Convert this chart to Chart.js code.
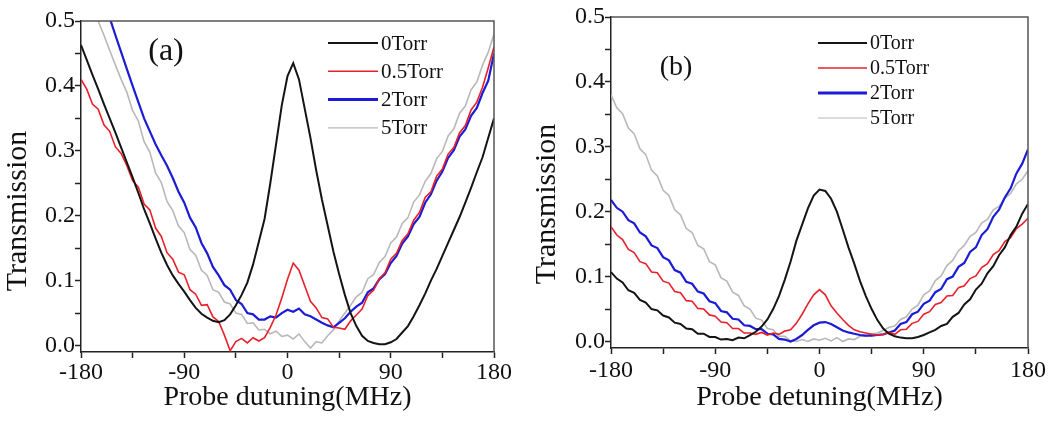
<!DOCTYPE html>
<html>
<head>
<meta charset="utf-8">
<script src="https://cdn.jsdelivr.net/npm/chart.js@4.4.1/dist/chart.umd.min.js"></script>
<style>
  html, body { margin: 0; padding: 0; background: #fff; }
  #wrap { position: relative; width: 1056px; height: 423px; }
  #chartA { position: absolute; left: 0; top: 0; }
  #chartB { position: absolute; left: 530px; top: 0; }
</style>
</head>
<body>
<div id="wrap">
  <canvas id="chartA" width="530" height="423"></canvas>
  <canvas id="chartB" width="526" height="423"></canvas>
</div>
<script>
// ── data (probe detuning in MHz, 5 MHz steps) ───────────────────────────
const detuning = [
    -180, -175, -170, -165, -160, -155, -150, -145,
    -140, -135, -130, -125, -120, -115, -110, -105,
    -100, -95, -90, -85, -80, -75, -70, -65,
    -60, -55, -50, -45, -40, -35, -30, -25,
    -20, -15, -10, -5, 0, 5, 10, 15,
    20, 25, 30, 35, 40, 45, 50, 55,
    60, 65, 70, 75, 80, 85, 90, 95,
    100, 105, 110, 115, 120, 125, 130, 135,
    140, 145, 150, 155, 160, 165, 170, 175,
    180];

const seriesLabels = ['0Torr', '0.5Torr', '2Torr', '5Torr'];

// panel (a) transmission
const a0Torr = [
    0.463, 0.44, 0.417, 0.395, 0.372, 0.35, 0.328, 0.305,
    0.282, 0.259, 0.235, 0.21, 0.188, 0.165, 0.143, 0.124,
    0.108, 0.095, 0.083, 0.07, 0.058, 0.049, 0.043, 0.038,
    0.036, 0.039, 0.048, 0.062, 0.078, 0.097, 0.125, 0.16,
    0.195, 0.25, 0.31, 0.37, 0.415, 0.435, 0.41, 0.365,
    0.32, 0.27, 0.225, 0.185, 0.145, 0.11, 0.078, 0.05,
    0.03, 0.015, 0.007, 0.004, 0.002, 0.002, 0.005, 0.01,
    0.02, 0.03, 0.045, 0.062, 0.08, 0.1, 0.118, 0.138,
    0.158, 0.178, 0.198, 0.22, 0.243, 0.267, 0.29, 0.32,
    0.35];
const a05Torr = [
    0.41, 0.395, 0.372, 0.364, 0.34, 0.33, 0.306, 0.296,
    0.277, 0.254, 0.244, 0.218, 0.209, 0.181, 0.168, 0.143,
    0.133, 0.113, 0.109, 0.086, 0.079, 0.062, 0.063, 0.044,
    0.037, 0.016, -0.008, 0.006, 0.011, 0.004, 0.012, 0.007,
    0.012, 0.028, 0.047, 0.073, 0.102, 0.127, 0.116, 0.092,
    0.068, 0.058, 0.043, 0.041, 0.028, 0.027, 0.025, 0.038,
    0.047, 0.056, 0.077, 0.085, 0.103, 0.112, 0.133, 0.142,
    0.162, 0.172, 0.193, 0.205, 0.228, 0.237, 0.261, 0.272,
    0.295, 0.305, 0.328, 0.339, 0.363, 0.375, 0.398, 0.428,
    0.46];
const a2Torr = [
    0.636, 0.61, 0.583, 0.557, 0.53, 0.505, 0.478, 0.452,
    0.426, 0.40, 0.375, 0.35, 0.33, 0.31, 0.293, 0.277,
    0.258, 0.237, 0.22, 0.197, 0.182, 0.158, 0.142, 0.121,
    0.108, 0.093, 0.086, 0.07, 0.064, 0.05, 0.048, 0.04,
    0.04, 0.045, 0.043, 0.05, 0.055, 0.052, 0.057, 0.048,
    0.045, 0.04, 0.035, 0.031, 0.028, 0.035, 0.042, 0.052,
    0.06, 0.066, 0.082, 0.088, 0.102, 0.11, 0.127, 0.138,
    0.157, 0.168, 0.187, 0.198, 0.22, 0.233, 0.254, 0.268,
    0.289, 0.301, 0.322, 0.333, 0.354, 0.366, 0.389, 0.408,
    0.45];
const a5Torr = [
    0.57, 0.547, 0.524, 0.5, 0.478, 0.455, 0.432, 0.41,
    0.39, 0.362, 0.346, 0.314, 0.298, 0.266, 0.251, 0.222,
    0.208, 0.184, 0.174, 0.148, 0.139, 0.116, 0.108, 0.086,
    0.082, 0.067, 0.064, 0.05, 0.048, 0.034, 0.035, 0.024,
    0.025, 0.018, 0.022, 0.014, 0.016, 0.01, 0.018, 0.006,
    -0.004, 0.006, 0.004, 0.015, 0.024, 0.038, 0.05, 0.062,
    0.075, 0.082, 0.103, 0.109, 0.128, 0.137, 0.158, 0.167,
    0.188, 0.197, 0.221, 0.232, 0.253, 0.265, 0.288, 0.299,
    0.323, 0.334, 0.358, 0.369, 0.394, 0.406, 0.432, 0.452,
    0.48];

// panel (b) transmission
const b0Torr = [
    0.107, 0.097, 0.091, 0.079, 0.075, 0.064, 0.06, 0.05,
    0.048, 0.04, 0.037, 0.029, 0.027, 0.02, 0.019, 0.012,
    0.012, 0.007, 0.007, 0.003, 0.004, 0.002, 0.006, 0.005,
    0.01, 0.015, 0.023, 0.034, 0.05, 0.07, 0.095, 0.123,
    0.155, 0.18, 0.205, 0.225, 0.234, 0.232, 0.22, 0.2,
    0.173, 0.145, 0.12, 0.093, 0.07, 0.05, 0.033, 0.02,
    0.012, 0.008, 0.006, 0.005, 0.005, 0.007, 0.01, 0.014,
    0.018, 0.024, 0.027, 0.038, 0.044, 0.057, 0.065, 0.08,
    0.089, 0.105, 0.116, 0.133, 0.145, 0.164, 0.177, 0.197,
    0.212];
const b05Torr = [
    0.177, 0.164, 0.157, 0.142, 0.137, 0.123, 0.12, 0.107,
    0.106, 0.093, 0.09, 0.077, 0.075, 0.063, 0.062, 0.051,
    0.05, 0.041, 0.039, 0.03, 0.029, 0.02, 0.02, 0.013,
    0.013, 0.011, 0.014, 0.01, 0.013, 0.011, 0.016, 0.018,
    0.028, 0.042, 0.058, 0.072, 0.08, 0.072, 0.055, 0.044,
    0.034, 0.025, 0.018, 0.015, 0.013, 0.011, 0.01, 0.011,
    0.014, 0.011, 0.018, 0.019, 0.028, 0.031, 0.042, 0.046,
    0.057, 0.06, 0.07, 0.071, 0.083, 0.086, 0.097, 0.101,
    0.114, 0.12, 0.134, 0.14, 0.154, 0.16, 0.174, 0.181,
    0.19];
const b2Torr = [
    0.218, 0.206, 0.2, 0.187, 0.182, 0.168, 0.162, 0.148,
    0.144, 0.13, 0.125, 0.11, 0.106, 0.092, 0.089, 0.077,
    0.074, 0.062, 0.059, 0.047, 0.045, 0.035, 0.034, 0.025,
    0.024, 0.019, 0.019, 0.012, 0.011, 0.004, 0.003, 0.0,
    0.004, 0.01, 0.018, 0.025, 0.029, 0.03, 0.027, 0.022,
    0.017, 0.014, 0.012, 0.01, 0.009, 0.009, 0.01, 0.011,
    0.014, 0.017, 0.027, 0.03, 0.042, 0.046, 0.058, 0.063,
    0.076, 0.081, 0.096, 0.1, 0.115, 0.121, 0.138, 0.145,
    0.164, 0.173, 0.192, 0.203, 0.222, 0.236, 0.259, 0.274,
    0.296];
const b5Torr = [
    0.38, 0.36, 0.351, 0.329, 0.32, 0.297, 0.288, 0.264,
    0.255, 0.233, 0.225, 0.203, 0.195, 0.174, 0.168, 0.148,
    0.143, 0.123, 0.118, 0.098, 0.093, 0.076, 0.071, 0.055,
    0.05, 0.036, 0.033, 0.02, 0.018, 0.008, 0.008, 0.001,
    0.0, 0.003, 0.0, 0.004, 0.002, 0.005, 0.001, 0.006,
    0.0, 0.004, 0.003, 0.008, 0.008, 0.012, 0.013, 0.017,
    0.022, 0.024, 0.034, 0.038, 0.05, 0.056, 0.072, 0.078,
    0.094, 0.101, 0.117, 0.125, 0.14, 0.148, 0.162, 0.168,
    0.183, 0.188, 0.203, 0.208, 0.221, 0.228, 0.243, 0.25,
    0.263];

// ticks
const xTickValues = [-180, -135, -90, -45, 0, 45, 90, 135, 180];
const xTickLabels = [-180, -90, 0, 90, 180];
const yTickValues = [0, 0.05, 0.1, 0.15, 0.2, 0.25, 0.3, 0.35, 0.4, 0.45, 0.5];
const yTickLabels = [0, 0.1, 0.2, 0.3, 0.4, 0.5];

// ── styles ──────────────────────────────────────────────────────────────
const SERIF = '"Liberation Serif", "Times New Roman", serif';
const seriesColors = ['#141414', '#e8202a', '#1c1cd6', '#b8b8b8'];
const seriesWidths = [2, 1.6, 2.2, 1.6];
const legendWidths = [2, 1.6, 3, 1.2];

function makeSets(values) {
    return seriesLabels.map((label, i) => ({
        label: label,
        data: detuning.map((x, j) => ({ x: x, y: values[i][j] })),
        borderColor: seriesColors[i],
        backgroundColor: seriesColors[i],
        borderWidth: seriesWidths[i],
        pointRadius: 0,
        tension: 0,
        clip: 0
    }));
}

// frame, panel tag, inner legend and y title
const decorPlugin = {
    id: 'decor',
    afterDatasetsDraw(chart, args, o) {
        const ctx = chart.ctx;
        const a = chart.chartArea;
        ctx.save();
        ctx.strokeStyle = '#555';
        ctx.lineWidth = 1.5;
        ctx.beginPath();
        ctx.moveTo(a.left, a.top);
        ctx.lineTo(a.right, a.top);
        ctx.lineTo(a.right, a.bottom);
        ctx.stroke();

        ctx.fillStyle = '#111';
        ctx.textAlign = 'center';
        ctx.textBaseline = 'middle';
        ctx.font = o.tagSize + 'px ' + SERIF;
        ctx.fillText(o.tag, o.tagX, o.tagY);

        ctx.font = o.legSize + 'px ' + SERIF;
        ctx.textAlign = 'left';
        chart.data.datasets.forEach((ds, i) => {
            const y = o.legY + i * o.legGap;
            ctx.strokeStyle = ds.borderColor;
            ctx.lineWidth = legendWidths[i];
            ctx.beginPath();
            ctx.moveTo(o.legX, y);
            ctx.lineTo(o.legX + o.legLen, y);
            ctx.stroke();
            ctx.fillText(ds.label, o.legX + o.legLen + 3, y + 1);
        });

        ctx.translate(o.yTitleX, o.yTitleY);
        ctx.rotate(-Math.PI / 2);
        ctx.textAlign = 'center';
        ctx.font = '30px ' + SERIF;
        ctx.fillText('Transmission', 0, 0);
        ctx.restore();
    }
};

function isIn(list, v) {
    return list.some(t => Math.abs(t - v) < 1e-6);
}

function makeOptions(p) {
    return {
        responsive: false,
        animation: false,
        layout: { padding: { left: 0, top: p.top, right: p.right, bottom: 0 } },
        plugins: {
            legend: { display: false },
            tooltip: { enabled: false },
            decor: p.decor
        },
        scales: {
            x: {
                type: 'linear',
                min: -180,
                max: 180,
                afterBuildTicks: s => { s.ticks = xTickValues.map(v => ({ value: v })); },
                afterFit: s => { s.height = p.xAxisH; },
                ticks: {
                    autoSkip: false,
                    maxRotation: 0,
                    padding: p.xPad,
                    color: '#111',
                    font: { family: SERIF, size: 24 },
                    callback: v => isIn(xTickLabels, v) ? String(v) : ''
                },
                grid: { drawOnChartArea: false, tickLength: 6, color: '#222', tickWidth: 1.5 },
                border: { color: '#222', width: 1.5 },
                title: {
                    display: true,
                    text: p.xTitle,
                    color: '#111',
                    font: { family: SERIF, size: 28 },
                    padding: { top: 0, bottom: 9 }
                }
            },
            y: {
                type: 'linear',
                min: -0.01,
                max: 0.5,
                afterBuildTicks: s => { s.ticks = yTickValues.map(v => ({ value: v })); },
                afterFit: s => { s.width = 81; },
                ticks: {
                    autoSkip: false,
                    padding: 0,
                    color: '#111',
                    font: { family: SERIF, size: 24 },
                    callback: v => isIn(yTickLabels, v) ? v.toFixed(1) : ''
                },
                grid: { drawOnChartArea: false, tickLength: 6, color: '#222', tickWidth: 1.5 },
                border: { color: '#222', width: 1.5 }
            }
        }
    };
}

document.addEventListener('DOMContentLoaded', function () {
    new Chart(document.getElementById('chartA'), {
        type: 'line',
        data: { datasets: makeSets([a0Torr, a05Torr, a2Torr, a5Torr]) },
        options: makeOptions({
            top: 21, right: 36, xAxisH: 71, xPad: 0,
            xTitle: 'Probe dutuning(MHz)',
            decor: {
                tag: '(a)', tagX: 166, tagY: 52, tagSize: 32,
                legX: 328, legY: 43, legGap: 28.3, legLen: 50, legSize: 21,
                yTitleX: 18, yTitleY: 211
            }
        }),
        plugins: [decorPlugin]
    });

    new Chart(document.getElementById('chartB'), {
        type: 'line',
        data: { datasets: makeSets([b0Torr, b05Torr, b2Torr, b5Torr]) },
        options: makeOptions({
            top: 17, right: 28, xAxisH: 75, xPad: 2,
            xTitle: 'Probe detuning(MHz)',
            decor: {
                tag: '(b)', tagX: 146, tagY: 68, tagSize: 28,
                legX: 288, legY: 43, legGap: 25, legLen: 49, legSize: 20,
                yTitleX: 17, yTitleY: 204
            }
        }),
        plugins: [decorPlugin]
    });
});
</script>
</body>
</html>
